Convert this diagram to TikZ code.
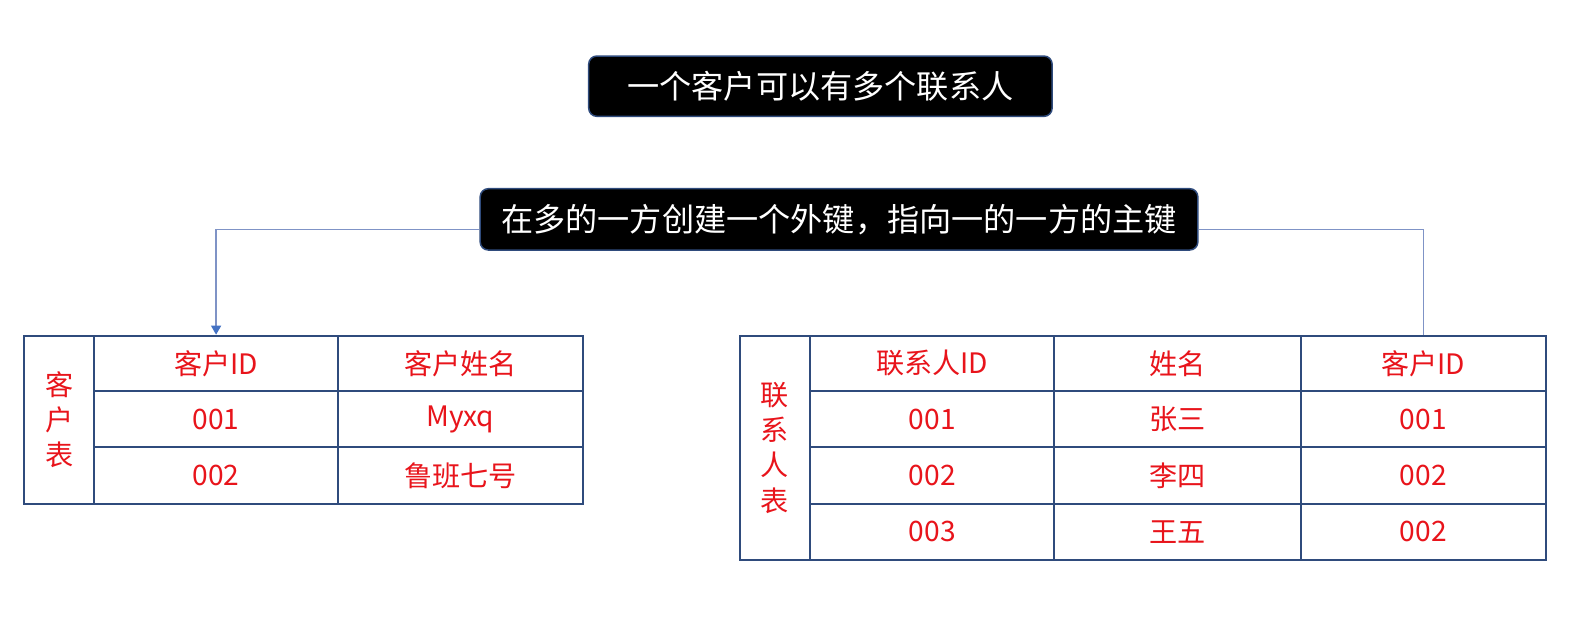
\documentclass[tikz,border=0pt]{standalone}
\usepackage{fontspec}
\setmainfont{Noto Sans CJK SC}
\usetikzlibrary{arrows.meta}
\definecolor{bordblue}{HTML}{2F4B7C}
\definecolor{linkblue}{HTML}{7F93C6}
\definecolor{tipblue}{HTML}{4472C4}
\definecolor{cellred}{HTML}{E8141B}
\tikzset{
  banner/.style={draw=bordblue, line width=1.5pt, fill=black, rounded corners=8pt, text=white,
    font=\fontsize{32}{38}\selectfont, inner sep=0pt, anchor=north west},
  cell/.style={draw=bordblue, line width=2pt, inner sep=0pt, anchor=north west, text=cellred,
    font=\fontsize{28}{33}\selectfont},
  vlabel/.style={cell, align=center, font=\fontsize{28}{35}\selectfont},
  link/.style={draw=linkblue, line width=1.2pt},
}
\begin{document}
\begin{tikzpicture}[x=1pt,y=-1pt]
\useasboundingbox (0,0) rectangle (1569,617);
% banners
\node[banner, minimum width=461pt, minimum height=60pt] (b1) at (585,55) {一个客户可以有多个联系人};
\node[banner, minimum width=714pt, minimum height=61pt] (b2) at (477,187) {在多的一方创建一个外键，指向一的一方的主键};
% left table
\node[vlabel, minimum width=70pt, minimum height=167pt] (lt) at (23,333) {客\\户\\表};
\node[cell, minimum width=242pt, minimum height=55pt] (lh1) at (93,333) {客户ID};
\node[cell, minimum width=244pt, minimum height=55pt] (lh2) at (335,333) {客户姓名};
\node[cell, minimum width=242pt, minimum height=56pt] (l11) at (93,388) {001};
\node[cell, minimum width=244pt, minimum height=56pt] (l12) at (335,388) {Myxq};
\node[cell, minimum width=242pt, minimum height=56pt] (l21) at (93,444) {002};
\node[cell, minimum width=244pt, minimum height=56pt] (l22) at (335,444) {鲁班七号};
% right table
\node[vlabel, minimum width=70pt, minimum height=223pt] (rt) at (735,333) {联\\系\\人\\表};
\node[cell, minimum width=243pt, minimum height=55pt] (rh1) at (805,333) {联系人ID};
\node[cell, minimum width=245pt, minimum height=55pt] (rh2) at (1048,333) {姓名};
\node[cell, minimum width=244pt, minimum height=55pt] (rh3) at (1293,333) {客户ID};
\node[cell, minimum width=243pt, minimum height=56pt] (r11) at (805,388) {001};
\node[cell, minimum width=245pt, minimum height=56pt] (r12) at (1048,388) {张三};
\node[cell, minimum width=244pt, minimum height=56pt] (r13) at (1293,388) {001};
\node[cell, minimum width=243pt, minimum height=56pt] (r21) at (805,444) {002};
\node[cell, minimum width=245pt, minimum height=56pt] (r22) at (1048,444) {李四};
\node[cell, minimum width=244pt, minimum height=56pt] (r23) at (1293,444) {002};
\node[cell, minimum width=243pt, minimum height=56pt] (r31) at (805,500) {003};
\node[cell, minimum width=245pt, minimum height=56pt] (r32) at (1048,500) {王五};
\node[cell, minimum width=244pt, minimum height=56pt] (r33) at (1293,500) {002};
% connectors
\draw[link, -{Triangle[width=10pt,length=9pt,color=tipblue]}] ([yshift=-10pt]b2.west) -| (lh1.north);
\draw[link] ([yshift=-10pt]b2.east) -| (rh3.north);
\end{tikzpicture}
\end{document}
